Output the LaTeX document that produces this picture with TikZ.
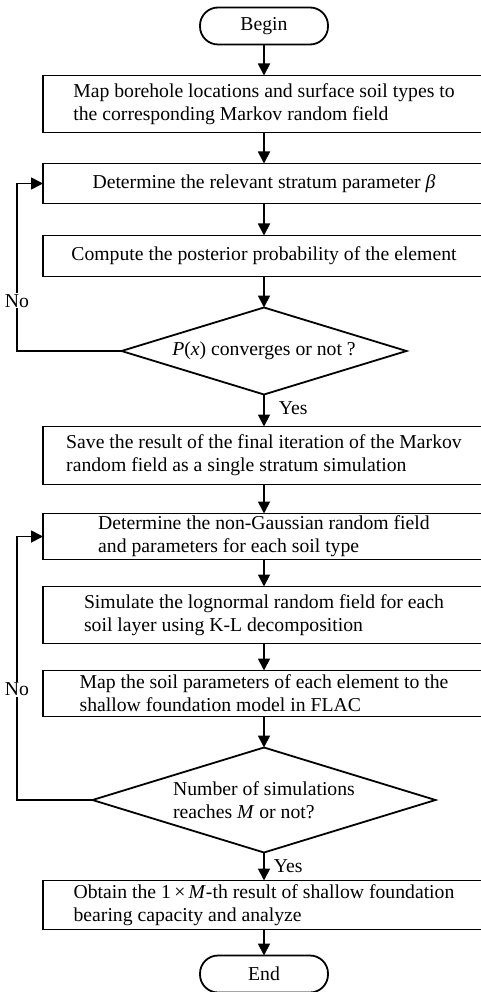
\documentclass[tikz,border=0pt]{standalone}
\usepackage{fontspec}
\setmainfont{Liberation Serif}
\usetikzlibrary{positioning,shapes.geometric,arrows.meta}

\begin{document}
\begin{tikzpicture}[x=1pt,y=1pt,font=\fontsize{19.7}{23}\selectfont]
    \tikzstyle{term}=[rectangle, rounded corners=18pt, draw, line width=1.8pt, outer sep=0pt, minimum width=128pt, minimum height=37pt, inner sep=0pt]
    \tikzstyle{proc}=[rectangle, draw, line width=1.8pt, outer sep=0pt, minimum width=442pt, inner xsep=0pt, inner ysep=2pt, align=left]
    \tikzstyle{decide}=[diamond, draw, line width=1.8pt, outer sep=0pt, inner sep=0pt, aspect=3.3, align=left]
    \tikzstyle{connect}=[-{Triangle[width=12pt,length=12pt]}, line width=1.8pt]

      \useasboundingbox (0,0) rectangle (480,-992);

      \node[term] (begin) at (264,-26) {Begin};
      \node[proc, minimum height=57pt] (mapbore) [below=31pt of begin] {Map borehole locations and surface soil types to\\the corresponding Markov random field};
      \node[proc, minimum height=40pt] (param) [below=31pt of mapbore] {Determine the relevant stratum parameter \textit{β}};
      \node[proc, minimum height=41pt] (posterior) [below=32pt of param] {Compute the posterior probability of the element};
      \node[decide, minimum width=285pt, minimum height=87pt] (conv) [below=31pt of posterior] {\textit{P}(\textit{x}) converges or not ?};
      \node[proc, minimum height=58pt] (save) [below=32pt of conv] {Save the result of the final iteration of the Markov\\random field as a single stratum simulation};
      \node[proc, minimum height=46pt] (nongauss) [below=29pt of save] {Determine the non-Gaussian random field\\and parameters for each soil type};
      \node[proc, minimum height=57pt] (lognorm) [below=27pt of nongauss] {Simulate the lognormal random field for each\\soil layer using K-L decomposition};
      \node[proc, minimum height=46pt] (flac) [below=27pt of lognorm] {Map the soil parameters of each element to the\\shallow foundation model in FLAC};
      \node[decide, minimum width=343pt, minimum height=105pt] (nsim) [below=31pt of flac] {Number of simulations\\reaches \textit{M} or not?};
      \node[proc, minimum height=49pt] (result) [below=28pt of nsim] {Obtain the 1\,×\,\textit{M}-th result of shallow foundation\\bearing capacity and analyze};
      \node[term] (end) [below=26pt of result] {End};

      \path
        (begin) edge [connect] (mapbore)
        (mapbore) edge [connect] (param)
        (param) edge [connect] (posterior)
        (posterior) edge [connect] (conv)
        (conv) edge [connect] node[right=14pt, pos=0.44, inner sep=0pt] {Yes} (save)
        (save) edge [connect] (nongauss)
        (nongauss) edge [connect] (lognorm)
        (lognorm) edge [connect] (flac)
        (flac) edge [connect] (nsim)
        (nsim) edge [connect] node[right=9pt, pos=0.5, inner sep=0pt] {Yes} (result)
        (result) edge [connect] (end);
      % loops back on the left
      \draw[connect] (conv.west) -| node[pos=0.65, fill=white, inner sep=1pt] {No} ([xshift=-26pt]param.west) -- (param.west);
      \draw[connect] (nsim.west) -| node[pos=0.71, fill=white, inner sep=1pt] {No} ([xshift=-26pt]nongauss.west) -- (nongauss.west);
    \end{tikzpicture}
\end{document}
